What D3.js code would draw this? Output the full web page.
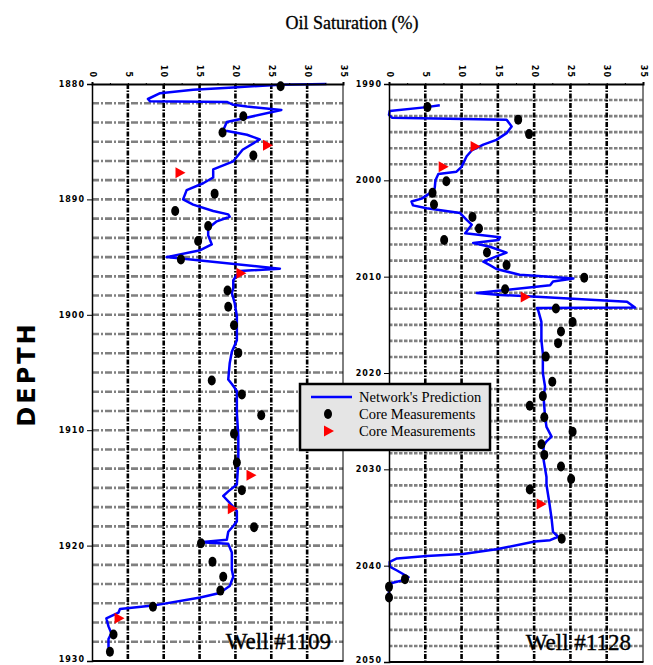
<!DOCTYPE html>
<html>
<head>
<meta charset="utf-8">
<script src="https://cdn.jsdelivr.net/npm/d3@7"></script>
<style>
  body { margin: 0; background: #fff; }
  svg { display: block; }
  .tick text { font-family: "DejaVu Sans", sans-serif; font-weight: bold; font-size: 8px; letter-spacing: 1px; fill: #000; }
</style>
</head>
<body>
<div id="chart"></div>
<script>
// saturation ticks (%)
const satTicks = [0, 5, 10, 15, 20, 25, 30, 35];

// Well #1109 - network prediction
const w1109Depth = [1880.0, 1880.06, 1880.3, 1880.5, 1880.8, 1881.3, 1881.5, 1881.55, 1881.8, 1881.95, 1882.25, 1883.3, 1884.0, 1884.4, 1884.8, 1885.7, 1886.7, 1887.4, 1888.1, 1888.6, 1889.2, 1890.0, 1890.45, 1891.0, 1891.3, 1891.5, 1891.9, 1892.5, 1893.1, 1893.9, 1894.4, 1895.0, 1896.0, 1896.2, 1897.0, 1897.7, 1898.1, 1899.0, 1900.1, 1902.2, 1903.2, 1904.2, 1905.6, 1906.0, 1906.6, 1908.5, 1910.5, 1912.8, 1914.7, 1915.3, 1915.7, 1916.3, 1917.0, 1917.9, 1918.3, 1918.8, 1919.5, 1919.7, 1919.85, 1920.6, 1922.1, 1922.7, 1923.5, 1924.1, 1924.5, 1925.2, 1925.5, 1925.8, 1926.3, 1927.0, 1927.6, 1928.1, 1928.9];
const w1109Pred = [32.7, 26.2, 19.7, 14.1, 9.5, 7.8, 8.1, 18.8, 19.7, 21.6, 26.4, 18.8, 18.3, 21.6, 23.4, 21.0, 19.7, 16.9, 16.9, 15.5, 13.2, 12.7, 14.1, 16.9, 19.0, 19.2, 17.4, 16.2, 16.2, 16.7, 15.1, 10.4, 26.2, 20.6, 19.7, 19.7, 19.5, 19.9, 20.2, 20.2, 19.5, 19.2, 19.0, 19.5, 20.2, 20.2, 20.4, 20.4, 20.2, 19.0, 18.3, 19.2, 20.2, 20.2, 19.7, 19.0, 18.8, 15.1, 19.0, 19.5, 19.5, 19.7, 19.2, 17.8, 15.1, 8.5, 3.9, 3.7, 2.0, 2.3, 2.7, 2.3, 2.3];

// Well #1109 - core measurements (dots)
const w1109CoreDepth = [1880.2, 1882.8, 1884.2, 1886.2, 1889.5, 1891.0, 1892.3, 1893.6, 1895.2, 1897.9, 1899.3, 1900.9, 1903.3, 1905.7, 1906.9, 1908.7, 1910.3, 1912.8, 1915.2, 1918.4, 1919.8, 1921.4, 1922.7, 1923.9, 1925.3, 1927.7, 1929.2];
const w1109Core = [26.3, 21.1, 18.2, 22.5, 17.1, 11.6, 16.2, 14.8, 12.4, 18.9, 19.0, 19.8, 20.4, 16.7, 20.9, 23.6, 19.8, 20.2, 20.9, 22.6, 15.2, 16.8, 18.3, 17.9, 8.5, 3.0, 2.5];

// Well #1109 - core measurements (triangles)
const w1109Core2Depth = [1885.3, 1887.7, 1896.4, 1913.9, 1916.8, 1926.3];
const w1109Core2 = [24.4, 12.2, 20.7, 22.1, 19.5, 3.7];

// Well #1128 - network prediction
const w1128Depth = [1992.2, 1992.4, 1992.8, 1993.2, 1993.5, 1993.7, 1994.4, 1995.1, 1995.8, 1996.3, 1996.9, 1997.5, 1998.6, 1999.1, 1999.35, 2000.0, 2000.8, 2001.35, 2001.9, 2002.2, 2002.6, 2002.9, 2003.4, 2004.1, 2004.6, 2005.5, 2005.9, 2006.2, 2006.5, 2006.9, 2007.5, 2007.9, 2008.45, 2008.8, 2009.2, 2009.8, 2009.9, 2010.2, 2010.5, 2010.9, 2011.7, 2011.9, 2012.0, 2012.6, 2013.2, 2013.25, 2013.6, 2014.7, 2016.6, 2018.0, 2020.0, 2021.4, 2022.5, 2024.5, 2025.6, 2026.6, 2027.1, 2027.5, 2029.0, 2030.8, 2031.6, 2033.5, 2035.1, 2036.5, 2037.0, 2037.35, 2037.5, 2038.3, 2038.8, 2039.0, 2039.25, 2039.6, 2040.1, 2040.5, 2041.2, 2041.5, 2041.8, 2042.2, 2043.2];
const w1128Pred = [7.0, 5.2, 0.1, 0.0, 0.4, 16.2, 16.9, 16.2, 14.8, 13.0, 11.4, 10.7, 10.0, 9.3, 6.8, 6.4, 6.3, 5.6, 4.5, 3.1, 3.3, 5.2, 9.8, 10.7, 11.4, 10.5, 15.3, 15.1, 11.6, 13.9, 16.2, 14.8, 13.0, 13.9, 14.8, 18.0, 20.1, 25.4, 22.6, 22.2, 12.1, 15.3, 18.5, 32.8, 33.9, 20.4, 20.6, 21.0, 21.0, 21.2, 21.2, 21.5, 21.3, 21.5, 21.7, 22.4, 21.7, 21.3, 21.3, 21.7, 21.7, 22.1, 22.4, 22.6, 23.3, 22.2, 20.1, 14.8, 10.2, 5.2, 1.1, 0.1, 0.1, 1.1, 2.7, 2.0, 0.4, 0.0, 0.0];

// Well #1128 - core measurements (dots)
const w1128CoreDepth = [1992.4, 1993.7, 1995.2, 2000.1, 2001.3, 2002.5, 2003.8, 2005.0, 2006.2, 2007.5, 2008.8, 2010.1, 2011.3, 2013.3, 2014.7, 2015.7, 2016.9, 2018.3, 2020.9, 2022.4, 2023.4, 2024.6, 2026.1, 2027.4, 2028.5, 2029.7, 2031.0, 2032.1, 2037.2, 2041.4, 2042.2, 2043.3];
const w1128Core = [5.3, 17.8, 19.3, 7.9, 6.0, 6.2, 11.5, 12.4, 7.6, 13.5, 16.2, 26.9, 16.0, 23.0, 25.3, 23.7, 23.3, 21.6, 22.5, 21.2, 19.4, 21.4, 25.3, 21.0, 21.4, 23.7, 25.1, 19.4, 23.8, 2.2, 0.0, 0.0];

// Well #1128 - core measurements (triangles)
const w1128Core2Depth = [1996.5, 1998.6, 2012.1, 2033.6];
const w1128Core2 = [11.8, 7.4, 18.7, 20.9];

const legendLabels = ["Network's Prediction", "Core Measurements", "Core Measurements"];

const width = 653, height = 665;
const blue = "#0000ff", red = "#ff0000";

let svg = d3.select("#chart").append("svg")
    .attr("width", width)
    .attr("height", height);

// panel layout
let panels = [
    {left: 92, right: 343, top: 84, bottom: 661, domain: [1880, 1930], label: "Well #1109",
     depth: w1109Depth, pred: w1109Pred, coreDepth: w1109CoreDepth, core: w1109Core,
     core2Depth: w1109Core2Depth, core2: w1109Core2, hDash: "7,2,2,2"},
    {left: 389, right: 643, top: 84, bottom: 662, domain: [1990, 2050], label: "Well #1128",
     depth: w1128Depth, pred: w1128Pred, coreDepth: w1128CoreDepth, core: w1128Core,
     core2Depth: w1128Core2Depth, core2: w1128Core2, hDash: "3.5,1.5"}
];

panels.forEach((p) => {
    let x = d3.scaleLinear().domain([0, 35]).range([p.left, p.right]);
    let y = d3.scaleLinear().domain(p.domain).range([p.top, p.bottom]);

    let g = svg.append("g");

    // horizontal grid, one line every 10/6 depth units
    let span = p.domain[1] - p.domain[0];
    let n = Math.round(span / (10 / 6));
    let hVals = d3.range(1, n).map((i) => p.domain[0] + i * 10 / 6);
    g.selectAll(".hgrid")
        .data(hVals)
        .enter().append("line")
        .attr("x1", p.left).attr("x2", p.right)
        .attr("y1", (d) => y(d)).attr("y2", (d) => y(d))
        .attr("stroke", "#808080")
        .attr("stroke-width", 2.6)
        .attr("stroke-dasharray", p.hDash);

    // vertical grid
    g.selectAll(".vgrid")
        .data(satTicks.slice(1, -1))
        .enter().append("line")
        .attr("x1", (d) => x(d)).attr("x2", (d) => x(d))
        .attr("y1", p.top).attr("y2", p.bottom)
        .attr("stroke", "#000")
        .attr("stroke-width", 2.6)
        .attr("stroke-dasharray", "5,1.5,1.5,1.5");

    // right + bottom border
    g.append("line")
        .attr("x1", p.right).attr("x2", p.right)
        .attr("y1", p.top).attr("y2", p.bottom)
        .attr("stroke", "#000").attr("stroke-width", 1);
    g.append("line")
        .attr("x1", p.left).attr("x2", p.right + 0.5)
        .attr("y1", p.bottom).attr("y2", p.bottom)
        .attr("stroke", "#000").attr("stroke-width", 2);

    // prediction curve
    let pts = p.depth.map((d, i) => [p.pred[i], d]);
    g.append("path")
        .datum(pts)
        .attr("fill", "none")
        .attr("stroke", blue)
        .attr("stroke-width", 2.5)
        .attr("stroke-linejoin", "round")
        .attr("d", d3.line().x((d) => x(d[0])).y((d) => y(d[1])));

    // core measurements - dots
    g.selectAll(".dot")
        .data(p.coreDepth.map((d, i) => [p.core[i], d]))
        .enter().append("ellipse")
        .attr("cx", (d) => x(d[0]))
        .attr("cy", (d) => y(d[1]))
        .attr("rx", 4).attr("ry", 5)
        .attr("fill", "#000");

    // core measurements - triangles
    g.selectAll(".tri")
        .data(p.core2Depth.map((d, i) => [p.core2[i], d]))
        .enter().append("path")
        .attr("d", "M-4,-5.5L6,0L-4,5.5Z")
        .attr("transform", (d) => "translate(" + x(d[0]) + "," + y(d[1]) + ")")
        .attr("fill", red);

    // top axis with minor ticks
    let topAxis = d3.axisTop(x)
        .tickValues(d3.range(0, 35.1, 2.5))
        .tickSize(2)
        .tickFormat((d) => d % 5 === 0 ? d3.format("d")(d) : "");
    let ta = svg.append("g")
        .attr("transform", "translate(0," + p.top + ")")
        .call(topAxis);
    ta.select(".domain").attr("stroke-width", 2);
    ta.selectAll(".tick line").attr("transform", "translate(0,1)");
    ta.selectAll(".tick text")
        .attr("transform", "rotate(90)")
        .attr("x", -6)
        .attr("y", 0)
        .attr("dy", "0.35em")
        .attr("text-anchor", "end");

    // depth axis
    let leftAxis = d3.axisLeft(y)
        .tickValues(d3.range(p.domain[0], p.domain[1] + 1, 10))
        .tickSize(5)
        .tickPadding(2)
        .tickFormat(d3.format("d"));
    let la = svg.append("g")
        .attr("transform", "translate(" + p.left + ",0)")
        .call(leftAxis);
    la.select(".domain").attr("stroke-width", 1.5);
    // keep the bottom label inside the page
    la.selectAll(".tick text")
        .filter((d) => d === p.domain[1])
        .attr("dy", "0.05em");

    // well label
    svg.append("text")
        .attr("x", p.right - 12)
        .attr("y", p.bottom - 12)
        .attr("text-anchor", "end")
        .style("font-family", "'Liberation Serif', serif")
        .style("font-size", "23px")
        .style("stroke", "#000")
        .style("stroke-width", 0.4)
        .text(p.label);
});

// title
svg.append("text")
    .attr("x", 352)
    .attr("y", 29)
    .attr("text-anchor", "middle")
    .style("font-family", "'Liberation Serif', serif")
    .style("font-size", "18px")
    .style("stroke", "#000")
    .style("stroke-width", 0.3)
    .text("Oil Saturation (%)");

// depth label
svg.append("text")
    .attr("transform", "translate(35,374) rotate(-90)")
    .attr("text-anchor", "middle")
    .style("font-family", "'DejaVu Sans', sans-serif")
    .style("font-weight", "bold")
    .style("font-size", "24px")
    .style("letter-spacing", "3px")
    .text("DEPTH");

// legend
let lg = svg.append("g").attr("transform", "translate(300,384)");
lg.append("rect")
    .attr("width", 190).attr("height", 66)
    .attr("fill", "#e5e5e5")
    .attr("stroke", "#000")
    .attr("stroke-width", 2.5);
let rows = lg.selectAll(".row")
    .data(legendLabels)
    .enter().append("g")
    .attr("transform", (d, i) => "translate(0," + (13 + i * 17) + ")");
rows.filter((d, i) => i === 0).append("line")
    .attr("x1", 11).attr("x2", 52)
    .attr("stroke", blue).attr("stroke-width", 2.5);
rows.filter((d, i) => i === 1).append("ellipse")
    .attr("cx", 28).attr("rx", 4).attr("ry", 5).attr("fill", "#000");
rows.filter((d, i) => i === 2).append("path")
    .attr("d", "M-4,-5.5L6,0L-4,5.5Z")
    .attr("transform", "translate(28,0)")
    .attr("fill", red);
rows.append("text")
    .attr("x", 59)
    .attr("dy", "0.35em")
    .style("font-family", "'Liberation Serif', serif")
    .style("font-size", "14.5px")
    .text((d) => d);
</script>
</body>
</html>
